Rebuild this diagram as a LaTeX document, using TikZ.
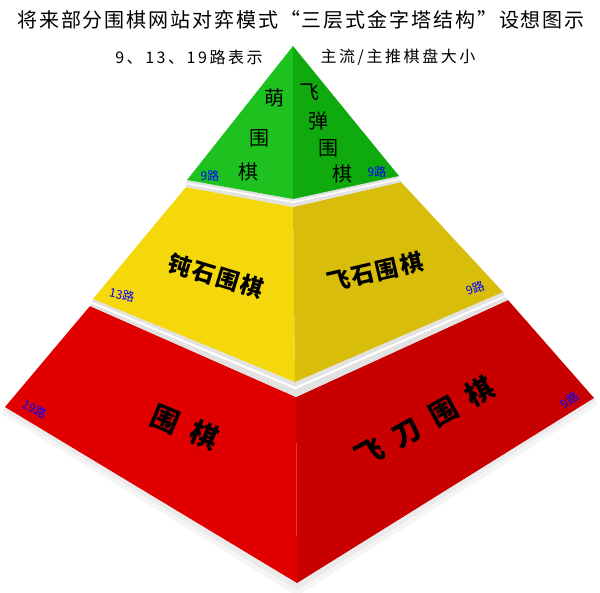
\documentclass[tikz,border=0pt]{standalone}
\usepackage{fontspec}
\setmainfont{Noto Sans CJK SC}
\newfontfamily\cjk{Noto Sans CJK SC}
\usepackage{xcolor}
\usetikzlibrary{calc}
\definecolor{greenL}{RGB}{30,194,30}
\definecolor{greenR}{RGB}{14,170,14}
\definecolor{yellowL}{RGB}{244,216,12}
\definecolor{yellowR}{RGB}{216,189,10}
\definecolor{redL}{RGB}{224,0,0}
\definecolor{redR}{RGB}{200,0,0}
\definecolor{ledge}{RGB}{226,226,226}
\definecolor{roadblue}{RGB}{0,0,255}

\begin{document}
\begin{tikzpicture}[x=1pt,y=-1pt,
    headline/.style={font=\cjk\fontsize{20}{20}\selectfont\addfontfeature{LetterSpace=9.5}},
    keyline/.style={font=\cjk\fontsize{16}{16}\selectfont\addfontfeature{LetterSpace=16}},
    greenchar/.style={font=\cjk\fontsize{20}{20}\selectfont, inner sep=0pt},
    yellowname/.style={font=\cjk\bfseries\fontsize{23}{23}\selectfont\addfontfeature{LetterSpace=8}, inner sep=0pt},
    redname/.style={font=\cjk\bfseries\fontsize{28}{28}\selectfont\addfontfeature{LetterSpace=50}, inner sep=0pt},
    roadsize/.style={font=\cjk\fontsize{12}{12}\selectfont, text=roadblue, inner sep=0pt}]
    \useasboundingbox (0,0) rectangle (600,593);

    %% corners of the three layers
    \coordinate (apex) at (293,46);
    \coordinate (gL) at (187,180);
    \coordinate (gC) at (293,199);
    \coordinate (gR) at (399,176);
    \coordinate (yTL) at (186,187);
    \coordinate (yTC) at (293,207);
    \coordinate (yTR) at (401,182);
    \coordinate (yBL) at (93,299);
    \coordinate (yBC) at (295,382);
    \coordinate (yBR) at (503,292);
    \coordinate (rTL) at (90,306);
    \coordinate (rTC) at (296,397);
    \coordinate (rTR) at (508,300);
    \coordinate (rL) at (5,407);
    \coordinate (rB) at (297,583);
    \coordinate (rR) at (594,398);

    %% soft shadow under the base
    \fill[black, opacity=0.04] (2,414) -- (297,596) -- (598,405) -- (594,398) -- (297,583) -- (5,407) -- cycle;
    \fill[black, opacity=0.04] (3,410) -- (297,590) -- (596,401) -- (594,398) -- (297,583) -- (5,407) -- cycle;

    %% bottom layer
    \fill[redL] (rTL) -- (rTC) -- (rB) -- (rL) -- cycle;
    \fill[redR] (rTC) -- (rTR) -- (rR) -- (rB) -- cycle;
    \fill[ledge] (yBL) -- (yBC) -- (yBR) -- (rTR) -- (rTC) -- (rTL) -- cycle;
    \draw[white, line width=2pt] ($(yBL)!0.5!(rTL)$) -- ($(yBC)!0.4!(rTC)$) -- ($(yBR)!0.5!(rTR)$);

    %% middle layer
    \fill[yellowL] (yTL) -- (yTC) -- (yBC) -- (yBL) -- cycle;
    \fill[yellowR] (yTC) -- (yTR) -- (yBR) -- (yBC) -- cycle;
    \fill[ledge] (gL) -- (gC) -- (gR) -- (yTR) -- (yTC) -- (yTL) -- cycle;
    \draw[white, line width=1.6pt] ($(gL)!0.5!(yTL)$) -- ($(gC)!0.4!(yTC)$) -- ($(gR)!0.5!(yTR)$);

    %% top layer
    \fill[greenL] (apex) -- (gC) -- (gL) -- cycle;
    \fill[greenR] (apex) -- (gR) -- (gC) -- cycle;

    %% headings
    \node[headline] (title) at (301,20) {将来部分围棋网站对弈模式“三层式金字塔结构”设想图示};
    \node[keyline] (keyleft) at (189,57) {9、13、19路表示};
    \node[keyline] (keyright) at (398,57) {主流/主推棋盘大小};

    %% green faces
    \node[greenchar] (mengA) at (274,98) {萌};
    \node[greenchar] (mengB) at (259,138) {围};
    \node[greenchar] (mengC) at (248,172) {棋};
    \node[greenchar] (tanA) at (309,92) {飞};
    \node[greenchar] (tanB) at (318,121) {弹};
    \node[greenchar] (tanC) at (328,148) {围};
    \node[greenchar] (tanD) at (342,174) {棋};
    \node[roadsize] (roadGL) at (210,176) {9路};
    \node[roadsize] (roadGR) at (377,172) {9路};

    %% yellow faces
    \node[yellowname, rotate=-17] (dunshi) at (216,276) {钝石围棋};
    \node[yellowname, rotate=13] (feishi) at (375,272) {飞石围棋};
    \node[roadsize, rotate=-12] (roadYL) at (122,295) {13路};
    \node[roadsize, rotate=20] (roadYR) at (475,288) {9路};

    %% red faces
    \node[redname, rotate=-23] (weiqi) at (185,427) {围棋};
    \node[redname, rotate=29] (feidao) at (425,422) {飞刀围棋};
    \node[roadsize, rotate=-28] (roadRL) at (35,409) {19路};
    \node[roadsize, rotate=35] (roadRR) at (570,400) {9路};
\end{tikzpicture}
\end{document}
